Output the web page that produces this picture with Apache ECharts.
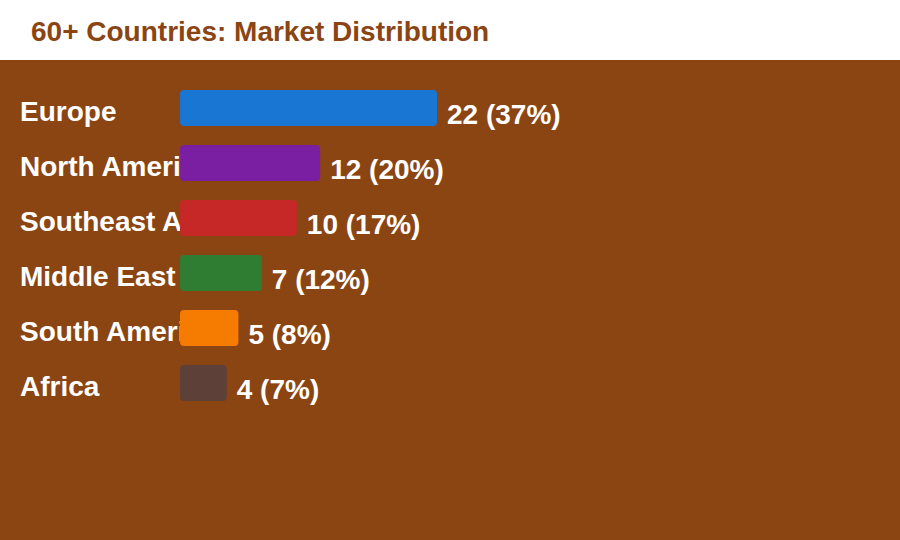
<!DOCTYPE html>
<html lang="en">
<head>
    <meta charset="UTF-8">
    <title>Market Distribution</title>
    <style>
        html, body { margin: 0; padding: 0; background: #fff; }
        #main { width: 900px; height: 540px; }
    </style>
</head>
<body>
    <div id="main"></div>
    <script src="https://cdn.jsdelivr.net/npm/echarts@6/dist/echarts.min.js"></script>
    <script>
        var regions = ['Europe', 'North America', 'Southeast Asia', 'Middle East', 'South America', 'Africa'];
        var counts = [22, 12, 10, 7, 5, 4];
        var shares = [37, 20, 17, 12, 8, 7];
        var colors = ['#1976D2', '#7B1FA2', '#C62828', '#2E7D32', '#F57C00', '#5D4037'];

        var font = 'Liberation Sans';
        var myChart = echarts.init(document.getElementById('main'), null, { renderer: 'svg' });

        var option = {
            textStyle: { fontFamily: font },
            graphic: [{
                type: 'rect',
                z: -10,
                shape: { x: 0, y: 60, width: 900, height: 480 },
                style: { fill: '#8B4513' }
            }],
            title: {
                text: '60+ Countries: Market Distribution',
                left: 26, top: 12,
                textStyle: { color: '#8B4513', fontSize: 28, fontWeight: 'bold', fontFamily: font }
            },
            grid: { left: 180, top: 80.5, width: 701, height: 330 },
            xAxis: { type: 'value', min: 0, max: 60, show: false },
            yAxis: {
                type: 'category',
                inverse: true,
                z: 0,
                data: regions,
                axisLine: { show: false },
                axisTick: { show: false },
                axisLabel: {
                    align: 'left', margin: 160,
                    lineHeight: 40, verticalAlign: 'top', padding: [-17, 0, 0, 0],
                    color: '#fff', fontSize: 28, fontWeight: 'bold', fontFamily: font
                }
            },
            series: [{
                type: 'bar',
                z: 20,
                barWidth: 36,
                data: counts.map(function (v, i) {
                    return { value: v, itemStyle: { color: colors[i] } };
                }),
                itemStyle: { borderRadius: 4 },
                label: {
                    show: true, position: 'right', distance: 10, offset: [0, 6],
                    color: '#fff', fontSize: 28, fontWeight: 'bold', fontFamily: font,
                    formatter: function (p) { return p.value + ' (' + shares[p.dataIndex] + '%)'; }
                }
            }]
        };

        myChart.setOption(option);
    </script>
</body>
</html>
